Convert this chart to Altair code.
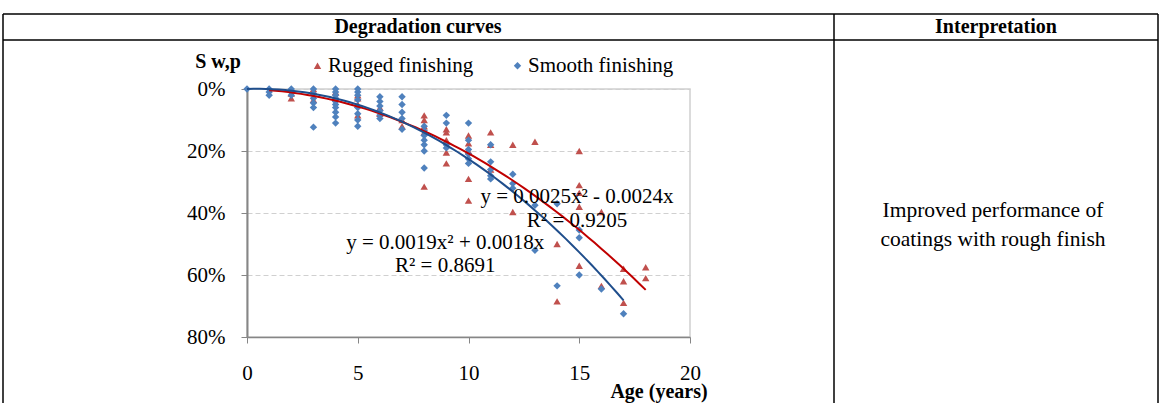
import altair as alt
import pandas as pd
import numpy as np

# ---------------- data ----------------
rugged_age = [2, 2, 3, 3, 3, 4, 4, 5, 5, 5, 5, 6, 6, 7, 7,
              8, 8, 8, 8, 8, 9, 9, 9, 9, 9, 10, 10, 10, 10, 10,
              11, 11, 11, 12, 12, 13, 14, 14, 15, 15, 15, 15, 15,
              16, 16, 17, 17, 17, 18, 18]
rugged_sw = [1.5, 3, 0, 1, 3.5, 1, 3, 2, 3, 5, 8.5, 6, 8, 10, 12,
             8.5, 10, 12, 14, 31.5, 13, 14, 16.5, 20.5, 24, 15, 17.5, 20, 29, 36,
             14, 18, 26, 18, 39.7, 17, 50, 68.5, 20, 31, 33.5, 38, 57,
             39.7, 63.5, 58, 62, 69, 57.5, 61]

smooth_age = [0, 1, 1, 1, 2, 2, 2, 3, 3, 3, 3, 3, 3,
              4, 4, 4, 4, 4, 4, 4, 4, 4, 4,
              5, 5, 5, 5, 5, 5, 5, 5,
              6, 6, 6, 6, 6, 6, 7, 7, 7, 7, 7,
              8, 8, 8, 8, 8, 8, 8, 9, 9, 9, 9,
              10, 10, 10, 10, 10, 10, 11, 11, 11, 11, 11,
              12, 12, 12, 13, 13, 14, 14, 15, 15, 15, 16, 17]
smooth_sw = [0, 0, 1, 2, 0, 1, 2, 0, 1.5, 3, 4.5, 6, 12.3,
             0, 1, 2, 3, 4, 5, 6, 7.5, 9, 11,
             0, 1, 2, 3.5, 6, 8, 10, 12,
             2.5, 4, 5.5, 7, 8.5, 9.5, 2.5, 5, 7.5, 9.5, 13,
             12, 13.5, 15, 16.5, 18, 20, 25.5, 8.5, 11, 18, 19,
             11, 16.5, 19.5, 21, 22.5, 24, 18, 23.5, 26, 28, 29,
             27.5, 30.5, 32, 37.5, 52, 37, 63.5, 45.5, 48, 60, 64.5, 72.5]

series_names = ["Rugged finishing", "Smooth finishing"]

# trendline coefficients printed on the chart (a, b for y = a x^2 + b x), x range
rugged_fit = (0.0019, 0.0018, 1, 18)
smooth_fit = (0.0025, -0.0024, 0, 17)

eq_labels = ["y = 0.0025x² - 0.0024x", "R² = 0.9205",
             "y = 0.0019x² + 0.0018x", "R² = 0.8691"]
eq_age = [14.9, 14.9, 8.95, 8.95]
eq_sw = [34.8, 42.6, 49.8, 57.2]

y_ticks = [0, 20, 40, 60, 80]
x_ticks = [0, 5, 10, 15, 20]

# ---------------- tables ----------------
pts = pd.concat([
    pd.DataFrame({"age": rugged_age, "sw": rugged_sw, "series": series_names[0]}),
    pd.DataFrame({"age": smooth_age, "sw": smooth_sw, "series": series_names[1]}),
])

def curve(fit, name):
    a, b, x0, x1 = fit
    xs = np.linspace(x0, x1, 60)
    return pd.DataFrame({"age": xs, "sw": 100 * (a * xs ** 2 + b * xs), "series": name})

curves = pd.concat([curve(rugged_fit, series_names[0]), curve(smooth_fit, series_names[1])])
eqs = pd.DataFrame({"label": eq_labels, "age": eq_age, "sw": eq_sw})

FONT = "Liberation Serif"
RED_PT, BLUE_PT = "#C0504D", "#4F81BD"
RED_LN, BLUE_LN = "#C00000", "#1F4E8C"

W, H = 443, 248
OX, OY = 247, 89

xscale = alt.Scale(domain=[0, 20], nice=False, zero=False)
yscale = alt.Scale(domain=[0, 80], reverse=True, nice=False)

xaxis = alt.Axis(values=x_ticks, title=None, grid=False, labelFont=FONT, labelFontSize=21,
                 labelColor="black", labelPadding=19, tickSize=6, tickColor="#868686",
                 domainColor="#868686", domainWidth=1.5, labelFlush=False)
yaxis = alt.Axis(values=y_ticks, title=None, labelExpr="datum.value + '%'", labelFont=FONT,
                 labelFontSize=21, labelColor="black", labelPadding=16, tickSize=6,
                 tickColor="#868686", domainColor="#868686", domainWidth=2,
                 gridColor="#D0D0D0", gridDash=[5, 3], gridWidth=1)

legend = alt.Legend(title=None, orient="none", direction="horizontal",
                    legendX=60, legendY=-34, labelFont=FONT, labelFontSize=21,
                    labelColor="black", symbolSize=55, columnPadding=33,
                    labelOffset=0, symbolStrokeWidth=0)

color = alt.Color("series:N", scale=alt.Scale(domain=series_names, range=[RED_PT, BLUE_PT]),
                  legend=legend)
shape = alt.Shape("series:N", scale=alt.Scale(domain=series_names, range=["triangle-up", "diamond"]),
                  legend=legend)

points = alt.Chart(pts).mark_point(filled=True, size=55, opacity=1).encode(
    x=alt.X("age:Q", scale=xscale, axis=xaxis),
    y=alt.Y("sw:Q", scale=yscale, axis=yaxis),
    color=color, shape=shape,
)

lines = alt.Chart(curves).mark_line(strokeWidth=2).encode(
    x=alt.X("age:Q", scale=xscale),
    y=alt.Y("sw:Q", scale=yscale),
    stroke=alt.Stroke("series:N", scale=alt.Scale(domain=series_names, range=[RED_LN, BLUE_LN]),
                      legend=None),
    detail="series:N",
)

eq_text = alt.Chart(eqs).mark_text(font=FONT, fontSize=21, color="black", align="center",
                                   baseline="middle").encode(
    x=alt.X("age:Q", scale=xscale), y=alt.Y("sw:Q", scale=yscale), text="label:N")

# ---------------- table frame and free text ----------------
def rule(x1, y1, x2, y2, w=1.5):
    return alt.Chart(pd.DataFrame({"k": [0]})).mark_rule(color="black", strokeWidth=w).encode(
        x=alt.value(x1 - OX), x2=alt.value(x2 - OX), y=alt.value(y1 - OY), y2=alt.value(y2 - OY))

frame = [
    rule(3, 14, 1158, 14),
    rule(3, 40, 1158, 40),
    rule(3, 14, 3, 403),
    rule(834, 14, 834, 403),
    rule(1158, 14, 1158, 403),
]

def label(txt, x, y, size=19, bold=False, align="center"):
    return alt.Chart(pd.DataFrame({"t": [txt]})).mark_text(
        font=FONT, fontSize=size, fontWeight="bold" if bold else "normal", color="black",
        align=align, baseline="middle").encode(
        x=alt.value(x - OX), y=alt.value(y - OY), text="t:N")

texts = [
    label("Degradation curves", 418, 27, 20, True),
    label("Interpretation", 996, 27, 20, True),
    label("S w,p", 218, 62, 20, True),
    label("Age (years)", 659, 392, 20, True),
    label("Improved performance of", 993, 211, 21.5),
    label("coatings with rough finish", 993, 240, 21.5),
]

chart = alt.layer(points, lines, eq_text, *frame, *texts).properties(
    width=W, height=H,
    autosize=alt.AutoSizeParams(type="none"),
    padding={"left": OX, "top": OY, "right": 1161 - OX - W, "bottom": 403 - OY - H},
    background="white",
).configure_view(stroke="#D0D0D0", strokeWidth=1.5)

chart.save("out.html", embed_options={"renderer": "svg", "actions": False})
